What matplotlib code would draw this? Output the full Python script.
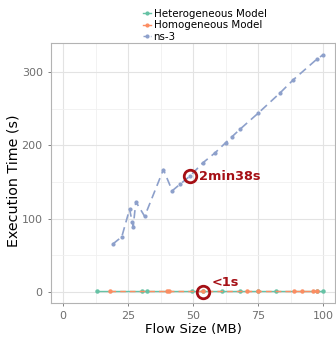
import numpy as np
import matplotlib.pyplot as plt
from matplotlib.lines import Line2D

# datos
ns3_size = [19.1, 22.6, 25.6, 26.6, 27.0, 28.0, 31.4, 38.6, 42.0, 45.0, 48.8,
            53.7, 58.5, 62.6, 65.0, 68.0, 75.0, 83.5, 88.6, 97.6, 100.0]
ns3_time = [65, 75, 113, 95, 89, 123, 103, 167, 138, 147, 158,
            176, 190, 204, 212, 222, 244, 272, 290, 318, 324]

het_size = [12.9, 30.3, 32.2, 49.7, 53.8, 61.2, 68.0, 75.0, 81.9, 97.5, 99.9]
het_time = [0.5] * len(het_size)
hom_size = [18.1, 39.9, 40.8, 53.8, 70.7, 75.0, 88.8, 91.8, 96.3, 97.5]
hom_time = [0.5] * len(hom_size)

green = '#66C2A5'
orange = '#FC8D62'
blue = '#8DA0CB'
dark_red = '#A50F15'

fig = plt.figure(figsize=(3.36, 3.37), dpi=100)
ax = fig.add_axes([0.152, 0.101, 0.845, 0.771])

ax.plot(het_size, het_time, color=green, lw=1.0, marker='o', ms=2.2, zorder=3)
ax.plot(hom_size, hom_time, color=orange, lw=1.0, ls=(0, (4, 3)), marker='o', ms=2.2, zorder=3)
ax.plot(ns3_size, ns3_time, color=blue, lw=1.2, ls=(0, (5, 3)), marker='o', ms=2.0, zorder=3)

# anotaciones
ax.plot(48.8, 158, 'o', ms=9, mfc='none', mec=dark_red, mew=2, zorder=4)
ax.text(52.3, 158, '2min38s', color=dark_red, fontsize=9.3, fontweight='bold', va='center')
ax.plot(53.7, 0, 'o', ms=9, mfc='none', mec=dark_red, mew=2, zorder=4)
ax.text(57, 13, '<1s', color=dark_red, fontsize=9.3, fontweight='bold', va='center')

ax.set_xlim(-4.6, 104.6)
ax.set_ylim(-15.5, 340)
ax.set_xticks([0, 25, 50, 75, 100])
ax.set_xticks([12.5, 37.5, 62.5, 87.5], minor=True)
ax.set_yticks([0, 100, 200, 300])
ax.set_yticks([50, 150, 250], minor=True)
ax.grid(True, which='major', color='#E3E3E3', lw=0.8)
ax.grid(True, which='minor', color='#F0F0F0', lw=0.6)
ax.set_axisbelow(True)
ax.tick_params(which='major', colors='#6E6E6E', labelsize=8, length=2.5, width=0.6)
ax.tick_params(which='minor', length=0)
for s in ax.spines.values():
    s.set_color('#B3B3B3')
    s.set_linewidth(0.8)

ax.set_xlabel('Flow Size (MB)', fontsize=9.5, labelpad=1)
ax.set_ylabel('Execution Time (s)', fontsize=10.3)
ax.yaxis.set_label_coords(-0.108, 0.47)

handles = [Line2D([], [], color=green, marker='o', ms=2, lw=1.0),
           Line2D([], [], color=orange, marker='o', ms=2, lw=1.0),
           Line2D([], [], color=blue, marker='o', ms=2, lw=1.0, ls='--')]
fig.legend(handles, ['Heterogeneous Model', 'Homogeneous Model', 'ns-3'],
           loc='upper left', bbox_to_anchor=(0.405, 0.995), frameon=False,
           fontsize=7.4, handlelength=0.8, handletextpad=0.2,
           labelspacing=0.15, borderpad=0.2)

plt.savefig('out.png', dpi=100)
